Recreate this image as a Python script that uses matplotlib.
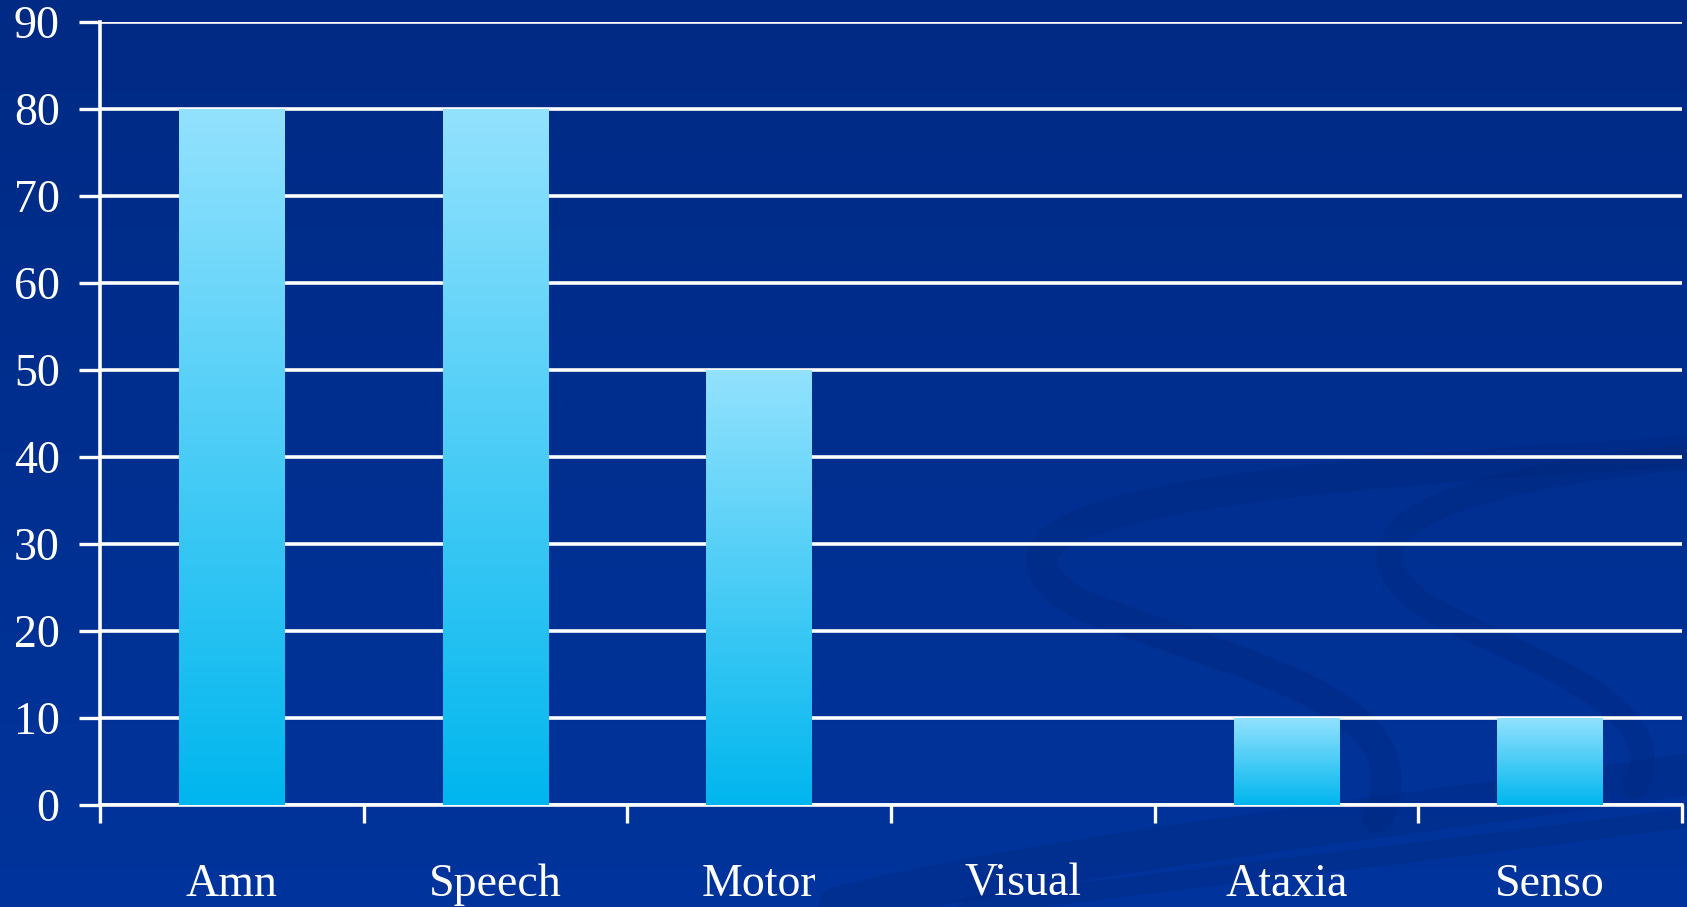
import numpy as np
import matplotlib.pyplot as plt
from matplotlib.colors import LinearSegmentedColormap
from matplotlib.path import Path
from matplotlib.patches import PathPatch

categories = ["Amn", "Speech", "Motor", "Visual", "Ataxia", "Senso"]
values = [80, 80, 50, 0, 10, 10]
y_ticks = [0, 10, 20, 30, 40, 50, 60, 70, 80, 90]

W, H, DPI = 1687, 907, 100
fig = plt.figure(figsize=(W / DPI, H / DPI), dpi=DPI)

# background gradient (darker navy at top) with faint swooshes
bg = fig.add_axes([0, 0, 1, 1], zorder=-10)
bg_cmap = LinearSegmentedColormap.from_list("bg", ["#002a84", "#00349c"])
bg.imshow(np.linspace(0, 1, 256).reshape(-1, 1), aspect="auto", cmap=bg_cmap,
          extent=[0, 1, 0, 1], origin="upper")
bg.set_xlim(0, 1)
bg.set_ylim(0, 1)
bg.axis("off")


def swoosh(pts, lw):
    verts = [(px / 1568, 1 - py / 843) for px, py in pts]
    codes = [Path.MOVETO] + [Path.CURVE4] * (len(verts) - 1)
    bg.add_patch(PathPatch(Path(verts, codes), fill=False, edgecolor="#002270",
                           lw=lw, alpha=0.22, capstyle="round"))


swoosh([(1568, 420), (1200, 440), (860, 470), (1000, 560),
        (1150, 620), (1330, 650), (1280, 760)], 22)
swoosh([(1568, 425), (1400, 440), (1220, 480), (1320, 560),
        (1400, 610), (1560, 650), (1520, 730)], 18)
swoosh([(780, 843), (1000, 790), (1300, 760), (1568, 720)], 30)
swoosh([(900, 843), (1150, 810), (1350, 790), (1568, 760)], 14)

ax = fig.add_axes([100 / W, 1 - 805 / H, 1582 / W, (805 - 22) / H])
ax.patch.set_visible(False)

x = np.arange(len(categories))
bar_cmap = LinearSegmentedColormap.from_list("bar", ["#00b6ee", "#93e2fe"])
grad = np.linspace(0, 1, 256).reshape(-1, 1)
bars = ax.bar(x, values, width=0.4, color="none", zorder=3)
for b in bars:
    h = b.get_height()
    if h <= 0:
        continue
    x0 = b.get_x()
    im = ax.imshow(grad, aspect="auto", cmap=bar_cmap, origin="lower",
                   extent=[x0, x0 + b.get_width(), 0, h], zorder=3)
    im.set_clip_path(b)

ax.set_xlim(-0.5, len(categories) - 0.5)
ax.set_ylim(0, 90)
ax.set_yticks(y_ticks)
ax.yaxis.grid(True, color="white", linewidth=2.6, zorder=1)
ax.set_axisbelow(True)

ax.set_xticks(x)
ax.set_xticklabels(categories)
ax.set_xticks(np.arange(-0.5, len(categories)), minor=True)
ax.tick_params(axis="x", which="major", length=0, pad=42)
ax.tick_params(axis="x", which="minor", length=13, width=2.4, color="white", direction="out")
ax.tick_params(axis="y", length=15, width=2.4, color="white", direction="out", pad=14)

for lab in ax.get_xticklabels() + ax.get_yticklabels():
    lab.set_color("white")
    lab.set_fontfamily("Liberation Serif")
    lab.set_fontsize(33)

for side in ["top", "right"]:
    ax.spines[side].set_visible(False)
for side in ["left", "bottom"]:
    ax.spines[side].set_color("white")
    ax.spines[side].set_linewidth(2.6)

fig.savefig("out.png", dpi=DPI)
